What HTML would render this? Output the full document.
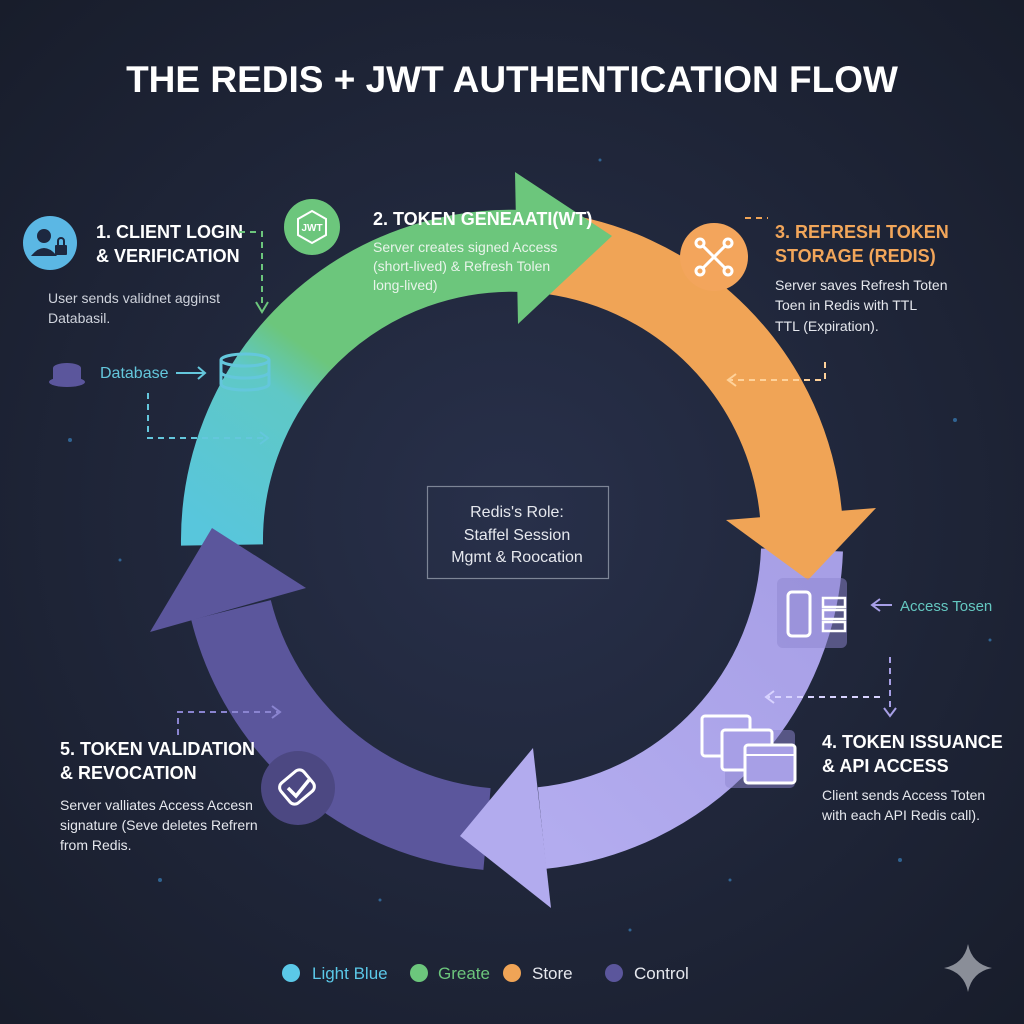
<!DOCTYPE html>
<html><head><meta charset="utf-8">
<style>
html,body{margin:0;padding:0;background:#1d2333;}
svg{display:block;}
text{font-family:"Liberation Sans",sans-serif;}
</style></head>
<body>
<svg width="1024" height="1024" viewBox="0 0 1024 1024" xmlns="http://www.w3.org/2000/svg">
<defs>
<radialGradient id="bg" cx="50%" cy="50%" r="70%">
<stop offset="0" stop-color="#28304a"/><stop offset="1" stop-color="#181d2b"/>
</radialGradient>
<linearGradient id="tg" gradientUnits="userSpaceOnUse" x1="220" y1="540" x2="420" y2="260">
<stop offset="0" stop-color="#58c6dc"/><stop offset="0.45" stop-color="#5fc8c6"/><stop offset="0.6" stop-color="#6cc67c"/><stop offset="1" stop-color="#6cc67c"/>
</linearGradient>
<linearGradient id="lg" gradientUnits="userSpaceOnUse" x1="800" y1="560" x2="540" y2="830">
<stop offset="0" stop-color="#a79fe6"/><stop offset="1" stop-color="#b3acef"/>
</linearGradient>
</defs>
<rect width="1024" height="1024" fill="url(#bg)"/>
<g fill="#3d8fd0" opacity="0.6">
<circle cx="70" cy="440" r="2"/><circle cx="120" cy="560" r="1.5"/><circle cx="955" cy="420" r="2"/><circle cx="900" cy="860" r="2"/><circle cx="630" cy="930" r="1.5"/><circle cx="160" cy="880" r="2"/><circle cx="380" cy="900" r="1.5"/><circle cx="730" cy="880" r="1.5"/><circle cx="990" cy="640" r="1.5"/><circle cx="600" cy="160" r="1.5"/>
</g>
<text x="512" y="92" text-anchor="middle" font-size="37" font-weight="bold" fill="#ffffff">THE REDIS + JWT AUTHENTICATION FLOW</text>

<path d="M222,545 A290,290 0 0 1 525,251" fill="none" stroke="url(#tg)" stroke-width="82"/>
<path d="M540,252 A290,290 0 0 1 801,515" fill="none" stroke="#f0a456" stroke-width="82"/>
<path d="M802,550 A290,290 0 0 1 542,828" fill="none" stroke="url(#lg)" stroke-width="82"/>
<path d="M487,829 A290,290 0 0 1 231,610" fill="none" stroke="#5b569c" stroke-width="82"/>
<polygon points="306,588 150,632 212,528" fill="#5b569c"/>
<polygon points="533,748 551,908 460,836" fill="#b2abee"/>
<polygon points="726,520 876,508 808,580" fill="#f0a456"/>
<polygon points="518,324 515,172 612,236" fill="#6cc67c"/>

<rect x="427.5" y="486.5" width="181" height="92" fill="none" stroke="#7d8596" stroke-width="1.2"/>
<g font-size="16" fill="#e6e8ee" text-anchor="middle">
<text x="517" y="517">Redis's Role:</text>
<text x="517" y="540">Staffel Session</text>
<text x="517" y="562">Mgmt &amp; Roocation</text>
</g>

<circle cx="50" cy="243" r="27" fill="#5bb7e4"/>
<circle cx="44" cy="236" r="7" fill="#1d2840"/>
<path d="M31,256 q13,-16 26,0 z" fill="#1d2840"/>
<rect x="55" y="245" width="12" height="10" rx="1" fill="#1d2840"/>
<path d="M58,245 v-4 a3,3 0 0 1 6,0 v4" fill="none" stroke="#1d2840" stroke-width="2"/>
<text x="96" y="238" font-size="18" font-weight="bold" fill="#fff">1. CLIENT LOGIN</text>
<text x="96" y="262" font-size="18" font-weight="bold" fill="#fff">&amp; VERIFICATION</text>
<text x="48" y="303" font-size="14" fill="#cfd3dc">User sends validnet  agginst</text>
<text x="48" y="323" font-size="14" fill="#cfd3dc">Databasil.</text>
<path d="M239,232 H262 V308" fill="none" stroke="#6cc67c" stroke-width="2" stroke-dasharray="6,5"/>
<path d="M256,302 L262,312 L268,302" fill="none" stroke="#6cc67c" stroke-width="2"/>

<ellipse cx="67" cy="368" rx="14" ry="5" fill="#5b569c"/>
<rect x="53" y="368" width="28" height="12" fill="#5b569c"/>
<ellipse cx="67" cy="382" rx="18" ry="5" fill="#5b569c"/>
<text x="100" y="378" font-size="16" fill="#64c7dc">Database</text>
<path d="M176,373 H204 M198,367 L205,373 L198,379" fill="none" stroke="#64c7dc" stroke-width="2"/>
<g fill="none" stroke="#64c7dc" stroke-width="3">
<ellipse cx="245" cy="360" rx="24" ry="6"/>
<path d="M221,360 v24 a24,6 0 0 0 48,0 v-24"/>
<path d="M221,372 a24,6 0 0 0 48,0"/>
</g>
<path d="M148,393 V438 H265" fill="none" stroke="#64c7dc" stroke-width="2" stroke-dasharray="6,5"/>
<path d="M260,432 L268,438 L260,444" fill="none" stroke="#64c7dc" stroke-width="2"/>

<circle cx="312" cy="227" r="28" fill="#6cc67c"/>
<polygon points="312,211 326,219 326,235 312,243 298,235 298,219" fill="none" stroke="#fff" stroke-width="2"/>
<text x="312" y="231" font-size="10" font-weight="bold" fill="#fff" text-anchor="middle">JWT</text>
<text x="373" y="225" font-size="18" font-weight="bold" fill="#fff">2. TOKEN GENEAATI(WT)</text>
<text x="373" y="252" font-size="14" fill="#e8f4ea">Server creates signed Access</text>
<text x="373" y="271" font-size="14" fill="#e8f4ea">(short-lived) &amp; Refresh Tolen</text>
<text x="373" y="290" font-size="14" fill="#e8f4ea">long-lived)</text>

<circle cx="714" cy="257" r="34" fill="#f3a55c"/>
<g stroke="#fff" stroke-width="3" fill="none">
<line x1="702" y1="245" x2="726" y2="269"/><line x1="726" y1="245" x2="702" y2="269"/>
<circle cx="700" cy="243" r="4"/><circle cx="728" cy="243" r="4"/><circle cx="700" cy="271" r="4"/><circle cx="728" cy="271" r="4"/>
</g>
<path d="M745,218 H768" fill="none" stroke="#f0a456" stroke-width="2" stroke-dasharray="6,5"/>
<text x="775" y="238" font-size="18" font-weight="bold" fill="#f2a65a">3. REFRESH TOKEN</text>
<text x="775" y="262" font-size="18" font-weight="bold" fill="#f2a65a">STORAGE (REDIS)</text>
<text x="775" y="290" font-size="14" fill="#e6e8ee">Server saves Refresh Toten</text>
<text x="775" y="310" font-size="14" fill="#e6e8ee">Toen in Redis with TTL</text>
<text x="775" y="331" font-size="14" fill="#e6e8ee">TTL (Expiration).</text>
<path d="M825,362 V380 H730" fill="none" stroke="#ffd29a" stroke-width="2" stroke-dasharray="6,5"/>
<path d="M736,374 L728,380 L736,386" fill="none" stroke="#ffd29a" stroke-width="2"/>

<rect x="777" y="578" width="70" height="70" rx="6" fill="#8e86cf" opacity="0.5"/>
<rect x="788" y="592" width="22" height="44" rx="4" fill="none" stroke="#fff" stroke-width="3"/>
<rect x="823" y="598" width="22" height="9" fill="none" stroke="#fff" stroke-width="2.5"/>
<rect x="823" y="610" width="22" height="9" fill="none" stroke="#fff" stroke-width="2.5"/>
<rect x="823" y="622" width="22" height="9" fill="none" stroke="#fff" stroke-width="2.5"/>
<path d="M872,605 H892 M880,599 L872,605 L880,611" fill="none" stroke="#a79fe6" stroke-width="2"/>
<text x="900" y="611" font-size="15" fill="#64c7c0">Access Tosen</text>
<path d="M890,657 V712" fill="none" stroke="#a79fe6" stroke-width="2" stroke-dasharray="6,5"/>
<path d="M884,708 L890,716 L896,708" fill="none" stroke="#a79fe6" stroke-width="2"/>
<path d="M880,697 H768" fill="none" stroke="#d8d3ff" stroke-width="2" stroke-dasharray="6,5"/>
<path d="M774,691 L766,697 L774,703" fill="none" stroke="#d8d3ff" stroke-width="2"/>
<rect x="725" y="730" width="70" height="58" rx="5" fill="#8e86cf" opacity="0.5"/>
<rect x="702" y="716" width="48" height="40" rx="3" fill="none" stroke="#fff" stroke-width="3"/>
<rect x="722" y="730" width="50" height="40" rx="3" fill="#a79fe6" stroke="#fff" stroke-width="3"/>
<rect x="745" y="745" width="50" height="38" rx="3" fill="#a79fe6" stroke="#fff" stroke-width="3"/>
<line x1="745" y1="755" x2="795" y2="755" stroke="#fff" stroke-width="2"/>
<text x="822" y="748" font-size="18" font-weight="bold" fill="#fff">4. TOKEN ISSUANCE</text>
<text x="822" y="772" font-size="18" font-weight="bold" fill="#fff">&amp; API ACCESS</text>
<text x="822" y="800" font-size="14" fill="#e6e8ee">Client sends Access Toten</text>
<text x="822" y="820" font-size="14" fill="#e6e8ee">with each API Redis call).</text>

<path d="M178,735 V712 H278" fill="none" stroke="#8a84d0" stroke-width="2" stroke-dasharray="6,5"/>
<path d="M272,706 L280,712 L272,718" fill="none" stroke="#8a84d0" stroke-width="2"/>
<circle cx="298" cy="788" r="37" fill="#4c4882"/>
<rect x="282" y="774" width="30" height="26" rx="6" transform="rotate(-40 297 787)" fill="none" stroke="#fff" stroke-width="3"/>
<path d="M288,788 L296,796 L309,780" fill="none" stroke="#fff" stroke-width="3.5"/>
<text x="60" y="755" font-size="18" font-weight="bold" fill="#fff">5. TOKEN VALIDATION</text>
<text x="60" y="779" font-size="18" font-weight="bold" fill="#fff">&amp; REVOCATION</text>
<text x="60" y="810" font-size="14" fill="#e6e8ee">Server valliates Access Accesn</text>
<text x="60" y="830" font-size="14" fill="#e6e8ee">signature (Seve deletes Refrern</text>
<text x="60" y="850" font-size="14" fill="#e6e8ee">from Redis.</text>

<circle cx="291" cy="973" r="9" fill="#5bc8e8"/>
<text x="312" y="979" font-size="17" fill="#5bc8e8">Light Blue</text>
<circle cx="419" cy="973" r="9" fill="#6cc67c"/>
<text x="438" y="979" font-size="17" fill="#6cc67c">Greate</text>
<circle cx="512" cy="973" r="9" fill="#f0a456"/>
<text x="532" y="979" font-size="17" fill="#e6e8ee">Store</text>
<circle cx="614" cy="973" r="9" fill="#5b569c"/>
<text x="634" y="979" font-size="17" fill="#e6e8ee">Control</text>

<path d="M968,944 Q972,964 992,968 Q972,972 968,992 Q964,972 944,968 Q964,964 968,944 Z" fill="#8a8e98"/>
</svg>
</body></html>
